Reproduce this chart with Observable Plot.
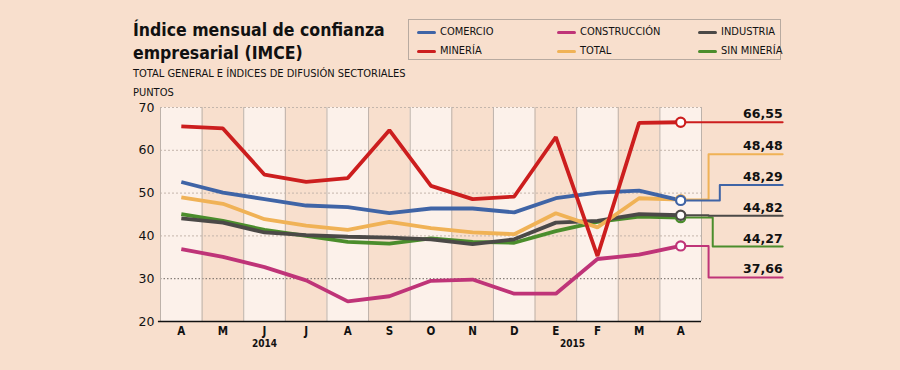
<!DOCTYPE html>
<html><head><meta charset="utf-8">
<script src="https://cdn.jsdelivr.net/npm/d3@7"></script>
<script src="https://cdn.jsdelivr.net/npm/@observablehq/plot@0.6"></script>
<style>
html,body{margin:0;padding:0;background:#f8dfcd;}
#wrap{position:relative;width:900px;height:370px;background:#f8dfcd;overflow:hidden;}
#chart{position:absolute;left:0;top:0;}
.t{position:absolute;color:#111;white-space:nowrap;}
#title{left:133px;top:19px;font-family:"DejaVu Sans Condensed","DejaVu Sans",sans-serif;font-stretch:condensed;font-weight:bold;font-size:17.5px;line-height:23px;}
#sub{left:133px;top:67px;font-family:"DejaVu Sans Condensed",sans-serif;font-stretch:condensed;font-size:11px;line-height:13px;}
#unit{left:133px;top:86px;font-family:"DejaVu Sans Condensed",sans-serif;font-stretch:condensed;font-size:11px;line-height:13px;}
#legend{position:absolute;left:408px;top:19px;width:371px;height:39px;border:1px solid #b8aaa0;}
.li{position:absolute;font-family:"DejaVu Sans Condensed",sans-serif;font-stretch:condensed;font-size:11px;line-height:13px;color:#111;white-space:nowrap;}
.sw{position:absolute;width:19px;height:3.5px;border-radius:2px;}
</style></head><body>
<div id="wrap">
<div id="chart"></div>
<div class="t" id="title">Índice mensual de confianza<br>empresarial (IMCE)</div>
<div class="t" id="sub">TOTAL GENERAL E ÍNDICES DE DIFUSIÓN SECTORIALES</div>
<div class="t" id="unit">PUNTOS</div>
<div id="legend"></div>
</div>
<script>
// ---- data ----
const months = ["A","M","J","J","A","S","O","N","D","E","F","M","A"];
const years = ["2014","2015"];
const yTicks = [20,30,40,50,60,70];
const seriesKeys = ["construccion","sinMineria","industria","total","comercio","mineria"];
const seriesNames = {comercio:"COMERCIO",construccion:"CONSTRUCCIÓN",industria:"INDUSTRIA",mineria:"MINERÍA",total:"TOTAL",sinMineria:"SIN MINERÍA"};
const comercio     = [52.6,50.1,48.6,47.1,46.7,45.3,46.4,46.4,45.5,48.8,50.1,50.6,48.29];
const construccion = [36.9,35.1,32.7,29.6,24.7,25.9,29.5,29.8,26.5,26.5,34.6,35.6,37.66];
const industria    = [44.1,43.1,40.8,40.2,39.8,39.6,39.2,38.1,39.2,43.1,43.5,45.1,44.82];
const mineria      = [65.6,65.1,54.3,52.6,53.5,64.7,51.7,48.6,49.2,63.1,35.3,66.4,66.55];
const total        = [49.0,47.5,43.9,42.4,41.4,43.3,41.8,40.8,40.4,45.3,42.0,48.8,48.48];
const sinMineria   = [45.1,43.5,41.4,40.0,38.6,38.2,39.4,38.6,38.4,41.1,43.3,44.5,44.27];
const values = {comercio,construccion,industria,mineria,total,sinMineria};

// ---- styles / layout ----
const colors = {comercio:"#3f64a6",construccion:"#bf3478",industria:"#4b4947",mineria:"#cc1e1e",total:"#f0b256",sinMineria:"#4b8d2c"};
const legendOrder = [["comercio","construccion","industria"],["mineria","total","sinMineria"]];
const elbow = {total:0.67,comercio:0.94,sinMineria:0.77,construccion:0.67,mineria:0.67,industria:0.67};
const yearAt = [2, 9.4];
const labelEnd = 14.45, gap = 7.2;
const LIGHT = "#fcf1ea";
const condensed = "'DejaVu Sans Condensed',sans-serif";

// legend
const lg = document.getElementById("legend");
const colX = [8, 148, 289], rowY = [12, 31];
legendOrder.forEach((row, r) => row.forEach((k, c) => {
  const sw = document.createElement("div"); sw.className = "sw";
  sw.style.left = colX[c] + "px"; sw.style.top = (rowY[r] - 1.5) + "px"; sw.style.background = colors[k];
  lg.appendChild(sw);
  const tx = document.createElement("div"); tx.className = "li";
  tx.style.left = (colX[c] + 23) + "px"; tx.style.top = (rowY[r] - 7) + "px"; tx.textContent = seriesNames[k];
  lg.appendChild(tx);
}));

// tidy data
const idx = months.map((m, i) => i);
const rows = [];
seriesKeys.forEach(k => values[k].forEach((v, i) => rows.push({key: k, i, v})));
const last = seriesKeys.map(k => ({key: k, v: values[k][months.length - 1]}));

// dodge label levels (data units)
const sorted = [...last].sort((a, b) => b.v - a.v);
let clusters = sorted.map(d => ({items: [d]}));
function place(c) { const m = d3.mean(c.items, d => d.v); const n = c.items.length; c.items.forEach((d, j) => d.level = m + ((n - 1) / 2 - j) * gap); }
clusters.forEach(place);
let changed = true;
while (changed) {
  changed = false;
  for (let j = 0; j < clusters.length - 1; j++) {
    const a = clusters[j], b = clusters[j + 1];
    if (a.items[a.items.length - 1].level - b.items[0].level < gap) {
      const merged = {items: a.items.concat(b.items)}; place(merged);
      clusters.splice(j, 2, merged); changed = true; break;
    }
  }
}
const lastI = months.length - 1;
const leaders = [];
last.forEach(d => {
  const e = lastI + elbow[d.key];
  leaders.push({key: d.key, x: lastI, y: d.v}, {key: d.key, x: e, y: d.v}, {key: d.key, x: e, y: d.level}, {key: d.key, x: labelEnd, y: d.level});
});
const fmt = v => d3.format(".2f")(v).replace(".", ",");

const marks = [
  Plot.rect(idx.filter(i => i % 2 === 0), {x1: i => i - 0.5, x2: i => i + 0.5, y1: 20, y2: 70, fill: LIGHT}),
  Plot.ruleY([40, 50, 60, 70], {x1: -0.5, x2: 12.5, stroke: "#c4b6ac", strokeDasharray: "2,2"}),
  Plot.ruleY([30], {x1: -0.5, x2: 12.5, stroke: "#6d6560", strokeDasharray: "1.5,2"}),
  Plot.ruleX(idx.concat([13]).map(i => i - 0.5), {y1: 20, y2: 70, stroke: "#bdb2aa", strokeWidth: 1}),
  Plot.line(leaders, {x: "x", y: "y", z: "key", stroke: d => colors[d.key], strokeWidth: 2, curve: "linear"}),
];
seriesKeys.forEach(k => {
  marks.push(Plot.line(rows.filter(r => r.key === k), {x: "i", y: "v", stroke: colors[k], strokeWidth: 3.8, strokeLinejoin: "miter", strokeLinecap: "butt"}));
});
marks.push(
  Plot.dot(last, {x: lastI, y: "v", r: 4.6, fill: "white", stroke: d => colors[d.key], strokeWidth: 2.2}),
  Plot.text(last, {x: labelEnd, y: "level", text: d => fmt(d.v), textAnchor: "end", lineAnchor: "bottom", dy: -4, fontWeight: "bold", fontSize: 12.5, fill: "#111", fontFamily: "DejaVu Sans"}),
  Plot.ruleY([20], {x1: -0.55, x2: 12.5, stroke: "#111", strokeWidth: 1.5}),
  Plot.text(yTicks, {x: -0.5, y: d => d, dx: -6, text: d => String(d), textAnchor: "end", lineAnchor: "middle", fontSize: 12.5, fill: "#111", fontFamily: "DejaVu Sans"}),
  Plot.text(months, {x: (d, i) => i, y: 20, dy: 10, text: d => d, lineAnchor: "middle", fontWeight: "bold", fontSize: 11.5, fill: "#111", fontFamily: condensed}),
  Plot.text(years, {x: (d, i) => yearAt[i], y: 20, dy: 22, text: d => d, lineAnchor: "middle", fontWeight: "bold", fontSize: 10, fill: "#111", fontFamily: condensed})
);

const chart = Plot.plot({
  width: 900, height: 370,
  marginLeft: 160, marginRight: 199, marginTop: 107, marginBottom: 49,
  x: {type: "linear", domain: [-0.5, 12.5], axis: null},
  y: {domain: [20, 70], axis: null},
  style: {background: "transparent", overflow: "visible"},
  marks
});
document.getElementById("chart").appendChild(chart);
</script>
</body></html>
